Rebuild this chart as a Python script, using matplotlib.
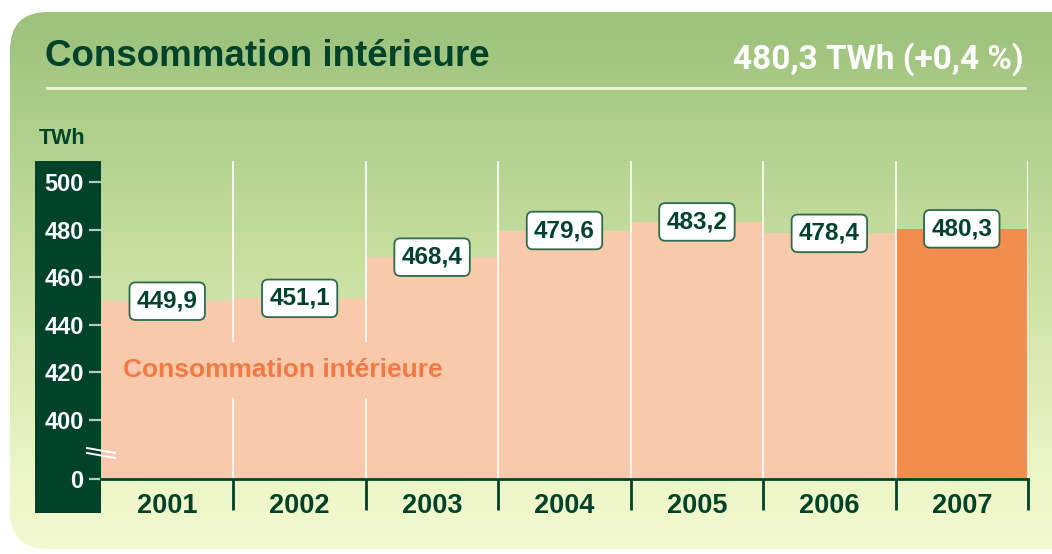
import numpy as np
import matplotlib.pyplot as plt
from matplotlib.patches import FancyBboxPatch, Rectangle
from matplotlib.colors import LinearSegmentedColormap

# Data
years = ['2001', '2002', '2003', '2004', '2005', '2006', '2007']
values = [449.9, 451.1, 468.4, 479.6, 483.2, 478.4, 480.3]
value_labels = ['449,9', '451,1', '468,4', '479,6', '483,2', '478,4', '480,3']
ytick_values = [400, 420, 440, 460, 480, 500]

# Colours
dark = '#00432a'
bar_light = '#f9c9ac'
bar_dark = '#f38d4f'
orange_txt = '#f27a42'

W, H = 1052, 554
plt.rcParams['font.family'] = ['Liberation Sans', 'DejaVu Sans']
fig = plt.figure(figsize=(W / 100, H / 100), dpi=100)
fig.patch.set_facecolor('white')

# background panel (pixel coordinates)
bg = fig.add_axes([0, 0, 1, 1])
bg.axis('off')
panel = FancyBboxPatch((10, 12), 1090, 537, boxstyle='round,pad=0,rounding_size=38',
                       facecolor='none', edgecolor='none', transform=bg.transData)
bg.add_patch(panel)
cmap = LinearSegmentedColormap.from_list(
    'bg', [(0, '#9bc17a'), (0.45, '#c6dea0'), (0.85, '#ebf5c5'), (1, '#f4f9d0')])
grad = np.linspace(0, 1, 256).reshape(-1, 1)
im = bg.imshow(grad, cmap=cmap, extent=[10, 1100, 549, 12], aspect='auto')
im.set_clip_path(panel)
bg.set_xlim(0, W)
bg.set_ylim(H, 0)

bg.text(45, 56, 'Consommation intérieure', fontsize=26.5, fontweight='bold',
        color=dark, va='center')
bg.text(1024, 59, '480,3 TWh (+0,4 %)', fontsize=24, fontweight='bold',
        color='white', ha='right', va='center', family=['Roboto', 'DejaVu Sans'])
bg.plot([47, 1025], [88, 88], color='#eef4dc', lw=2)
bg.text(39, 138, 'TWh', fontsize=15.5, fontweight='bold', color=dark, va='center')
bg.add_patch(Rectangle((35, 161), 66, 352, facecolor=dark, edgecolor='none'))

# main axes
y0 = 375.2
ax = fig.add_axes([101 / W, 1 - 479 / H, (1028 - 101) / W, (479 - 161) / H])
ax.patch.set_alpha(0)
x = np.arange(len(years))
colors = [bar_light] * (len(years) - 1) + [bar_dark]
ax.bar(x, values, width=1.0, color=colors, zorder=1)
ax.vlines(np.arange(len(years)) + 0.5, y0, 510, color='white', lw=1.5, alpha=0.8, zorder=2)
ax.set_xlim(-0.5, len(years) - 0.5)
ax.set_ylim(y0, 508.8)

for i, (v, lab) in enumerate(zip(values, value_labels)):
    ax.text(i, v, lab, ha='center', va='center', fontsize=17.5, fontweight='bold',
            color=dark, zorder=5,
            bbox=dict(boxstyle='round,pad=0.3,rounding_size=0.25', fc='white',
                      ec='#2e6a4c', lw=1.3))

ax.text(-0.334, 421.0, 'Consommation intérieure', fontsize=19, fontweight='bold',
        color=orange_txt, va='center', ha='left', zorder=4,
        bbox=dict(boxstyle='square,pad=0.62', fc=bar_light, ec='none'))

for s in ['top', 'right', 'left']:
    ax.spines[s].set_visible(False)
ax.spines['bottom'].set_color(dark)
ax.spines['bottom'].set_linewidth(2)
ax.spines['bottom'].set_zorder(3)

ax.set_xticks(x)
ax.set_xticklabels(years, fontsize=19.5, fontweight='bold', color=dark)
ax.tick_params(axis='x', which='major', length=0, pad=10)
ax.set_xticks(np.arange(len(years)) + 0.5, minor=True)
ax.tick_params(axis='x', which='minor', length=22, width=2, color=dark, direction='out')

ax.set_yticks([y0] + ytick_values)
ax.set_yticklabels(['0'] + [str(v) for v in ytick_values], fontsize=17,
                   fontweight='bold', color='white')
ax.tick_params(axis='y', length=9, width=1.6, color='#b9c9b9', pad=3.5)

# axis break marks, drawn on top of everything
top = fig.add_axes([0, 0, 1, 1], zorder=2)
top.axis('off')
top.set_xlim(0, W)
top.set_ylim(H, 0)
top.plot([87, 115], [448, 453], color='white', lw=1.4)
top.plot([87, 115], [453, 458], color='white', lw=1.4)

fig.savefig('out.png', dpi=100)
